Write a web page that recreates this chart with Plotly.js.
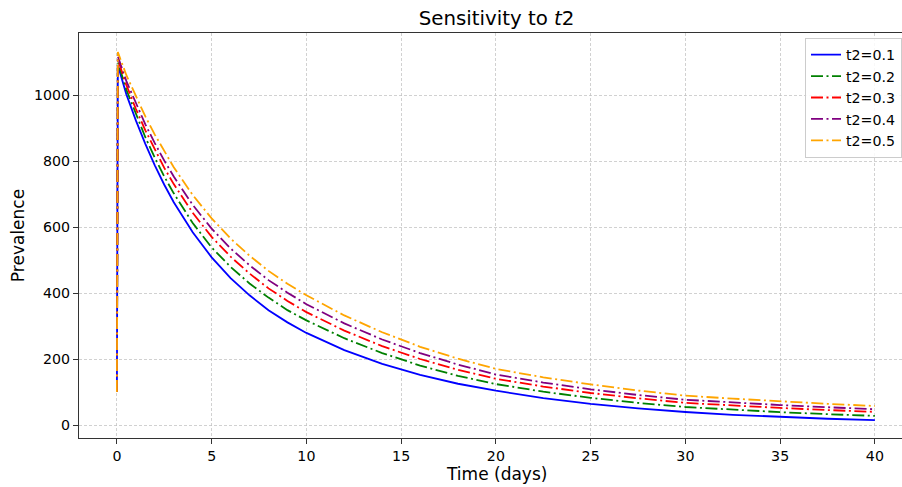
<!DOCTYPE html>
<html>
<head>
<meta charset="utf-8">
<script src="https://cdn.plot.ly/plotly-3.0.1.min.js"></script>
<style>html,body{margin:0;padding:0;background:#fff;}#chart{width:902px;height:487px;}</style>
</head>
<body>
<div id="chart"></div>
<script>
// Time points (days)
const time = [0, 0.05, 0.5, 1, 1.5, 2, 2.5, 3, 4, 5, 6, 7, 8, 9, 10, 12, 14, 16, 18, 20, 22.5, 25, 27.5, 30, 32.5, 35, 37.5, 40];
// Prevalence for each t2 value
const prev_t2_01 = [100, 1090, 1002, 923, 852, 787, 728, 675, 584, 508, 445, 393, 348, 311, 279, 227, 185, 152, 125, 104, 81.6, 64, 50.2, 39.4, 30.9, 24.3, 19, 15];
const prev_t2_02 = [100, 1100, 1016, 941, 872, 810, 753, 702, 612, 538, 479, 429, 386, 348, 317, 263, 218, 180, 149, 124, 101, 82.3, 67, 54.6, 46.1, 38.9, 32.8, 27.7];
const prev_t2_03 = [100, 1108, 1030, 958, 893, 834, 779, 730, 643, 570, 510, 459, 414, 376, 342, 286, 239, 200, 167, 140, 116.6, 97, 80.8, 67, 58.8, 51.6, 45.3, 39.8];
const prev_t2_04 = [100, 1117, 1042, 974, 911, 854, 801, 753, 667, 595, 535, 484, 439, 401, 366, 308, 259, 218, 183, 153, 128.7, 108.2, 91, 76.5, 68, 60.5, 53.8, 47.8];
const prev_t2_05 = [100, 1130, 1060, 995, 935, 880, 829, 781, 697, 626, 565, 513, 467, 428, 393, 332, 281, 237, 201, 170, 144.5, 123, 104.5, 88.9, 79.8, 71.6, 64.2, 57.6];
const seriesNames = ["t2=0.1", "t2=0.2", "t2=0.3", "t2=0.4", "t2=0.5"];
const xTicks = [0, 5, 10, 15, 20, 25, 30, 35, 40];
const yTicks = [0, 200, 400, 600, 800, 1000];

const allSeries = [prev_t2_01, prev_t2_02, prev_t2_03, prev_t2_04, prev_t2_05];
const colors = ["#0000ff", "#008000", "#ff0000", "#800080", "#ffa500"];
const dashDot = "12px,3.5px,2px,3.5px";
const dashes = ["solid", dashDot, dashDot, dashDot, dashDot];

const traces = allSeries.map((ys, i) => ({
  x: time, y: ys, type: "scatter", mode: "lines", name: seriesNames[i],
  line: {color: colors[i], width: 1.8, dash: dashes[i]}
}));

const font = "DejaVu Sans, sans-serif";
const layout = {
  width: 902, height: 487,
  margin: {l: 79, r: 0, t: 33, b: 49},
  paper_bgcolor: "#ffffff", plot_bgcolor: "#ffffff",
  font: {family: font, size: 14.2, color: "#000"},
  title: {text: "Sensitivity to <i>t</i>2", font: {family: font, size: 19.8, color: "#000"},
          xref: "container", x: 0.5505, xanchor: "center", yref: "container", y: 0.963, yanchor: "middle"},
  xaxis: {
    range: [-2, 41.43], tickvals: xTicks, ticktext: xTicks.map(String),
    showgrid: true, gridcolor: "#bdbdbd", gridwidth: 0.7, griddash: "3px,2px",
    zeroline: false, showline: true, linecolor: "#333", linewidth: 1.1, mirror: true,
    ticks: "outside", ticklen: 5, tickcolor: "#333", tickfont: {size: 14.2}
  },
  yaxis: {
    range: [-39.4, 1187.9], tickvals: yTicks, ticktext: yTicks.map(String),
    showgrid: true, gridcolor: "#bdbdbd", gridwidth: 0.7, griddash: "3px,2px",
    zeroline: false, showline: true, linecolor: "#333", linewidth: 1.1, mirror: false,
    ticks: "outside", ticklen: 5, tickcolor: "#333", tickfont: {size: 14.2},
    title: {text: "Prevalence", font: {size: 17}, standoff: 5}
  },
  annotations: [{
    text: "Time (days)", xref: "paper", yref: "paper", x: 0.5067, y: -0.0889,
    xanchor: "center", yanchor: "middle", showarrow: false, font: {size: 17}
  }],
  legend: {
    x: 1, xanchor: "right", y: 0.988, yanchor: "top",
    bgcolor: "rgba(255,255,255,0.85)", bordercolor: "#cccccc", borderwidth: 1,
    font: {size: 14.2}, itemwidth: 30, tracegroupgap: 0
  },
  showlegend: true
};
Plotly.newPlot("chart", traces, layout, {displayModeBar: false, staticPlot: true});
</script>
</body>
</html>
